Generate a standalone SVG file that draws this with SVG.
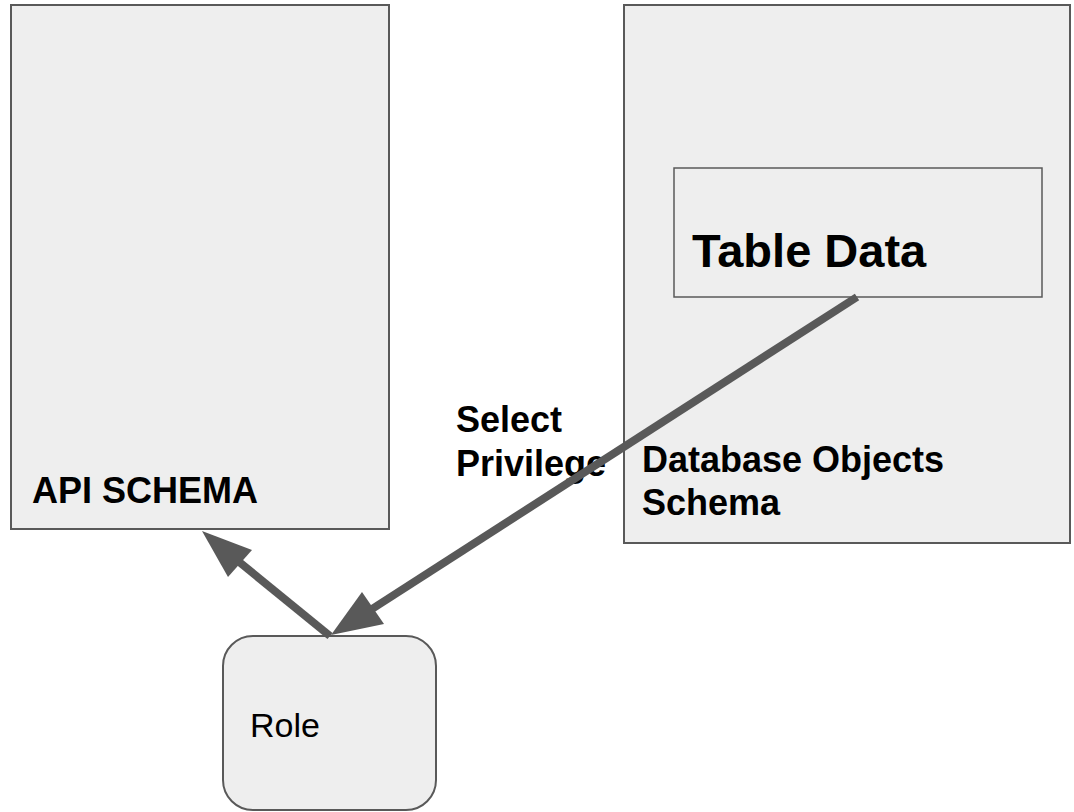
<svg xmlns="http://www.w3.org/2000/svg" width="1074" height="812" viewBox="0 0 1074 812">
<style>
.box{fill:#eeeeee;stroke:#595959;stroke-width:2}
.inner{fill:#eeeeee;stroke:#595959;stroke-width:1.5}
.t{font-family:"Liberation Sans",Arial,sans-serif;fill:#000}
.b{font-weight:bold;font-size:36px}
.ln{stroke:#595959;stroke-width:8;fill:none}
.ah{fill:#595959}
</style>
<rect width="1074" height="812" fill="#ffffff"/>
<g id="api-schema">
<rect class="box" x="11" y="5" width="378" height="524"/>
<text class="t b" x="32" y="503">API SCHEMA</text>
</g>
<g id="db-schema">
<rect class="box" x="624" y="5" width="446" height="538"/>
<text class="t b" x="642" y="472">Database Objects</text>
<text class="t b" x="642" y="515">Schema</text>
</g>
<g id="table-data">
<rect class="inner" x="674" y="168" width="368" height="129"/>
<text class="t b" x="692" y="267" style="font-size:47px">Table Data</text>
</g>
<g id="role">
<rect class="box" x="223" y="636" width="213" height="174" rx="30" ry="30"/>
<text class="t" x="250" y="737" font-size="34">Role</text>
</g>
<g id="label-select">
<text class="t b" x="456" y="432">Select</text>
<text class="t b" x="456" y="476">Privilege</text>
</g>
<g id="connectors">
<line class="ln" x1="857" y1="297" x2="372" y2="609"/>
<polygon class="ah" points="331,635 362,592 384,624"/>
<line class="ln" x1="330" y1="636" x2="238" y2="561"/>
<polygon class="ah" points="202,531 228,577 252,550"/>
</g>
</svg>
